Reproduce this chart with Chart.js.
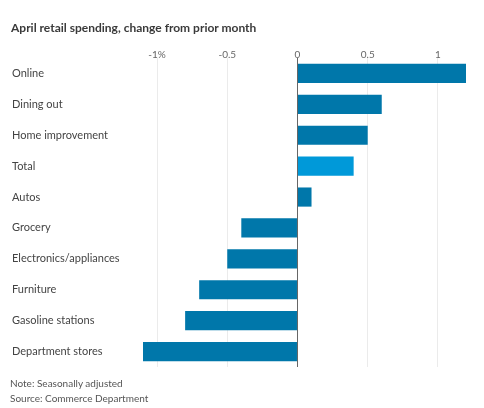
<!DOCTYPE html>
<html lang="en">
<head>
  <meta charset="UTF-8">
  <title>April retail spending</title>
  <script src="https://cdn.jsdelivr.net/npm/chart.js"></script>
  <style>
    body { margin: 0; background: #fff; font-family: Lato, sans-serif; }
    .wrap { position: relative; width: 484px; height: 408px; }
    .title { position: absolute; left: 11px; top: 20px; font-size: 12px; font-weight: bold; color: #3a3a3a; }
    .note { position: absolute; left: 10px; font-size: 10px; color: #555; }
    canvas { position: absolute; left: 0; top: 0; }
  </style>
</head>
<body>
  <div class="wrap">
    <canvas id="chart" width="484" height="408"></canvas>
    <div class="title">April retail spending, change from prior month</div>
    <div class="note" style="top: 377px;">Note: Seasonally adjusted</div>
    <div class="note" style="top: 392px;">Source: Commerce Department</div>
  </div>

  <script>
    const categories = [
      'Online', 'Dining out', 'Home improvement', 'Total', 'Autos',
      'Grocery', 'Electronics/appliances', 'Furniture', 'Gasoline stations', 'Department stores'
    ];
    const changes = [1.2, 0.6, 0.5, 0.4, 0.1, -0.4, -0.5, -0.7, -0.8, -1.1];
    const tickValues = [-1, -0.5, 0, 0.5, 1];
    const tickLabels = ['-1%', '-0.5', '0', '0.5', '1'];

    // Total gets the lighter blue
    const barColors = categories.map(c => c === 'Total' ? '#0099d9' : '#0077aa');

    new Chart(document.getElementById('chart'), {
      type: 'bar',
      data: {
        labels: categories,
        datasets: [{
          data: changes,
          backgroundColor: barColors,
          borderWidth: 0,
          barPercentage: 0.62,
          categoryPercentage: 1
        }]
      },
      options: {
        indexAxis: 'y',
        responsive: false,
        animation: false,
        layout: { padding: { left: 12, top: 40, right: 18, bottom: 41 } },
        plugins: { legend: { display: false }, tooltip: { enabled: false } },
        scales: {
          x: {
            position: 'top',
            min: -1.1,
            max: 1.2,
            afterBuildTicks: scale => { scale.ticks = tickValues.map(v => ({ value: v })); },
            afterFit: scale => { scale.height = 18; },
            ticks: {
              padding: -3,
              color: '#666',
              font: { family: 'Lato', size: 10 },
              callback: (v) => tickLabels[tickValues.indexOf(v)]
            },
            grid: {
              drawTicks: false,
              color: ctx => ctx.tick && ctx.tick.value === 0 ? '#666' : '#ebebeb',
              lineWidth: 1
            },
            border: { display: false }
          },
          y: {
            afterFit: scale => { scale.width = 131; },
            ticks: {
              crossAlign: 'far',
              color: '#444',
              font: { family: 'Lato', size: 11 }
            },
            grid: { display: false },
            border: { display: false }
          }
        }
      }
    });
  </script>
</body>
</html>
